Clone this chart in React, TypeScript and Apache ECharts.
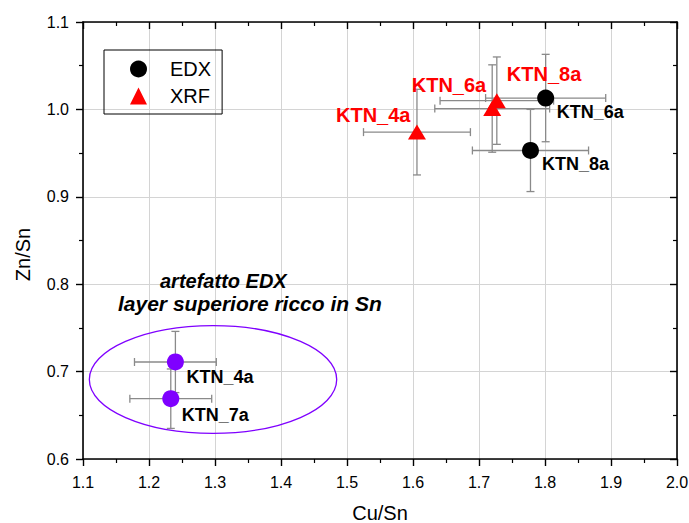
import React, { useEffect, useRef } from "react";
import * as echarts from "echarts";

// ---- data ----
const edxNames = ["KTN_6a", "KTN_8a"];
const edxX = [1.801, 1.778];
const edxY = [1.013, 0.953];
const edxXErr = [0.091, 0.088];
const edxYErr = [0.05, 0.047];

const xrfNames = ["KTN_4a", "KTN_6a", "KTN_8a"];
const xrfX = [1.606, 1.72, 1.727];
const xrfY = [0.974, 1.001, 1.01];
const xrfXErr = [0.081, 0.087, 0.086];
const xrfYErr = [0.049, 0.05, 0.05];

const artNames = ["KTN_4a", "KTN_7a"];
const artX = [1.24, 1.233];
const artY = [0.711, 0.669];
const artXErr = [0.062, 0.062];
const artYErr = [0.035, 0.034];

// ellipse around the artefact group: centre x, centre y, radius x, radius y (data units)
const ellipse = [1.297, 0.691, 0.1874, 0.0616];

const xTicks = { min: 1.1, max: 2.0, step: 0.1 };
const yTicks = { min: 0.6, max: 1.1, step: 0.1 };

const annotationLines = ["artefatto EDX", "layer superiore ricco in Sn"];

// ---- label placement (styling, not data) ----
const edxLabelPos = [
  { pos: [19.5, 22], align: "left" },
  { pos: [20, 22], align: "left" },
];
const xrfLabelPos = [
  { pos: [2.5, -9.5], align: "right" },
  { pos: [3, -16.5], align: "right" },
  { pos: [19, -19.5], align: "left" },
];
const artLabelPos = [
  { pos: [19.5, 23.5], align: "left" },
  { pos: [19.5, 24.5], align: "left" },
];

const FONT = "'Liberation Sans', Arial, Helvetica, sans-serif";
const ERR_COLOR = "#8a8a8a";
const PURPLE = "#7f00ff";

function errData(xs: number[], ys: number[], exs: number[], eys: number[]) {
  return xs.map((x, i) => [x, ys[i], exs[i], eys[i]]);
}

function renderErr(params: any, api: any) {
  const x = api.value(0);
  const y = api.value(1);
  const ex = api.value(2);
  const ey = api.value(3);
  const l = api.coord([x - ex, y]);
  const r = api.coord([x + ex, y]);
  const t = api.coord([x, y + ey]);
  const b = api.coord([x, y - ey]);
  const c = 4;
  const st = { stroke: ERR_COLOR, lineWidth: 1.3 };
  return {
    type: "group",
    children: [
      { type: "line", shape: { x1: l[0], y1: l[1], x2: r[0], y2: r[1] }, style: st },
      { type: "line", shape: { x1: l[0], y1: l[1] - c, x2: l[0], y2: l[1] + c }, style: st },
      { type: "line", shape: { x1: r[0], y1: r[1] - c, x2: r[0], y2: r[1] + c }, style: st },
      { type: "line", shape: { x1: t[0], y1: t[1], x2: b[0], y2: b[1] }, style: st },
      { type: "line", shape: { x1: t[0] - c, y1: t[1], x2: t[0] + c, y2: t[1] }, style: st },
      { type: "line", shape: { x1: b[0] - c, y1: b[1], x2: b[0] + c, y2: b[1] }, style: st },
    ],
  };
}

function pointData(
  names: string[],
  xs: number[],
  ys: number[],
  layout: { pos: number[]; align: string }[],
  color: string,
  size: number
) {
  return xs.map((x, i) => ({
    name: names[i],
    value: [x, ys[i]],
    label: {
      show: true,
      formatter: names[i],
      position: layout[i].pos,
      align: layout[i].align,
      verticalAlign: "middle",
      color,
      fontSize: size,
      fontWeight: "bold",
      fontFamily: FONT,
    },
  }));
}

function axisBase(t: { min: number; max: number; step: number }) {
  return {
    type: "value",
    min: t.min,
    max: t.max,
    interval: t.step,
    axisLine: { show: true, onZero: false, lineStyle: { color: "#000", width: 1.6 } },
    axisTick: { show: true, length: 7, lineStyle: { color: "#000", width: 1.4 } },
    minorTick: { show: true, splitNumber: 2, length: 4, lineStyle: { color: "#000", width: 1.2 } },
    axisLabel: {
      color: "#000",
      fontSize: 16,
      fontFamily: FONT,
      margin: 14,
      formatter: (v: number) => v.toFixed(1),
    },
  };
}

export default function App() {
  const ref = useRef<HTMLDivElement>(null);
  useEffect(() => {
    if (!ref.current) return;
    const chart = echarts.init(ref.current, undefined, { renderer: "svg" });
    const xBase = axisBase(xTicks);
    const option: any = {
      animation: false,
      backgroundColor: "#fff",
      textStyle: { fontFamily: FONT },
      grid: {
        left: 83,
        right: 12,
        top: 22,
        bottom: 64,
        containLabel: false,
        outerBoundsMode: "none",
      },
      xAxis: [
        {
          ...xBase,
          position: "bottom",
          axisLabel: { ...xBase.axisLabel, margin: 15 },
          name: "Cu/Sn",
          nameLocation: "middle",
          nameGap: 44,
          nameTextStyle: { fontSize: 20, color: "#000", fontFamily: FONT },
          splitLine: { show: true, lineStyle: { color: "#d4d4d4", width: 1 } },
        },
        {
          ...xBase,
          position: "top",
          axisTick: { show: true, inside: true, length: 7, lineStyle: { color: "#000", width: 1.4 } },
          axisLabel: { show: false },
          splitLine: { show: false },
        },
      ],
      yAxis: [
        {
          ...axisBase(yTicks),
          position: "left",
          name: "{a|Zn/Sn}{b|}",
          nameLocation: "middle",
          nameGap: 50,
          nameTextStyle: {
            fontSize: 20,
            color: "#000",
            fontFamily: FONT,
            rich: {
              a: { fontSize: 20, color: "#000", fontFamily: FONT },
              b: { width: 28, fontSize: 20 },
            },
          },
          splitLine: { show: true, lineStyle: { color: "#d4d4d4", width: 1 } },
        },
        {
          ...axisBase(yTicks),
          position: "right",
          axisTick: { show: true, inside: true, length: 7, lineStyle: { color: "#000", width: 1.4 } },
          axisLabel: { show: false },
          splitLine: { show: false },
        },
      ],
      legend: {
        data: [
          { name: "EDX", icon: "circle" },
          { name: "XRF", icon: "triangle" },
        ],
        orient: "vertical",
        left: 104,
        top: 50,
        padding: [9, 11, 8, 26],
        itemWidth: 17,
        itemHeight: 17,
        itemGap: 7,
        borderColor: "#000",
        borderWidth: 1,
        selectedMode: false,
        textStyle: { fontSize: 20, color: "#000", fontFamily: FONT, padding: [0, 0, 0, 18] },
      },
      graphic: [
        {
          type: "text",
          left: 160,
          top: 271,
          style: {
            text: annotationLines[0],
            fontSize: 20,
            fontWeight: "bold",
            fontStyle: "italic",
            fontFamily: FONT,
            fill: "#000",
          },
          z: 10,
        },
        {
          type: "text",
          left: 118,
          top: 293,
          style: {
            text: annotationLines[1],
            fontSize: 21,
            fontWeight: "bold",
            fontStyle: "italic",
            fontFamily: FONT,
            fill: "#000",
          },
          z: 10,
        },
      ],
      series: [
        {
          type: "custom",
          name: "ellipse",
          silent: true,
          encode: { x: 0, y: 1 },
          data: [ellipse],
          renderItem: (params: any, api: any) => {
            const c = api.coord([api.value(0), api.value(1)]);
            const s = api.size([api.value(2), api.value(3)]);
            return {
              type: "ellipse",
              shape: { cx: c[0], cy: c[1], rx: s[0], ry: s[1] },
              style: { fill: "none", stroke: PURPLE, lineWidth: 1.3 },
            };
          },
          z: 1,
        },
        {
          type: "custom",
          name: "errEDX",
          silent: true,
          encode: { x: 0, y: 1 },
          data: errData(edxX, edxY, edxXErr, edxYErr),
          renderItem: renderErr,
          z: 2,
        },
        {
          type: "custom",
          name: "errXRF",
          silent: true,
          encode: { x: 0, y: 1 },
          data: errData(xrfX, xrfY, xrfXErr, xrfYErr),
          renderItem: renderErr,
          z: 2,
        },
        {
          type: "custom",
          name: "errArt",
          silent: true,
          encode: { x: 0, y: 1 },
          data: errData(artX, artY, artXErr, artYErr),
          renderItem: renderErr,
          z: 2,
        },
        {
          type: "scatter",
          name: "EDX",
          symbol: "circle",
          symbolSize: 17,
          itemStyle: { color: "#000", opacity: 1 },
          data: pointData(edxNames, edxX, edxY, edxLabelPos, "#000", 18),
          z: 5,
        },
        {
          type: "scatter",
          name: "XRF",
          symbol: "triangle",
          symbolSize: [18, 15],
          itemStyle: { color: "#ff0000", opacity: 1 },
          data: pointData(xrfNames, xrfX, xrfY, xrfLabelPos, "#ff0000", 20),
          z: 5,
        },
        {
          type: "scatter",
          name: "artefatto",
          symbol: "circle",
          symbolSize: 17,
          itemStyle: { color: PURPLE, opacity: 1 },
          data: pointData(artNames, artX, artY, artLabelPos, "#000", 18),
          z: 5,
        },
      ],
    };
    chart.setOption(option);
    return () => chart.dispose();
  }, []);
  return (
    <div
      ref={ref}
      style={{ position: "fixed", left: 0, top: 0, width: 689, height: 523 }}
    />
  );
}
